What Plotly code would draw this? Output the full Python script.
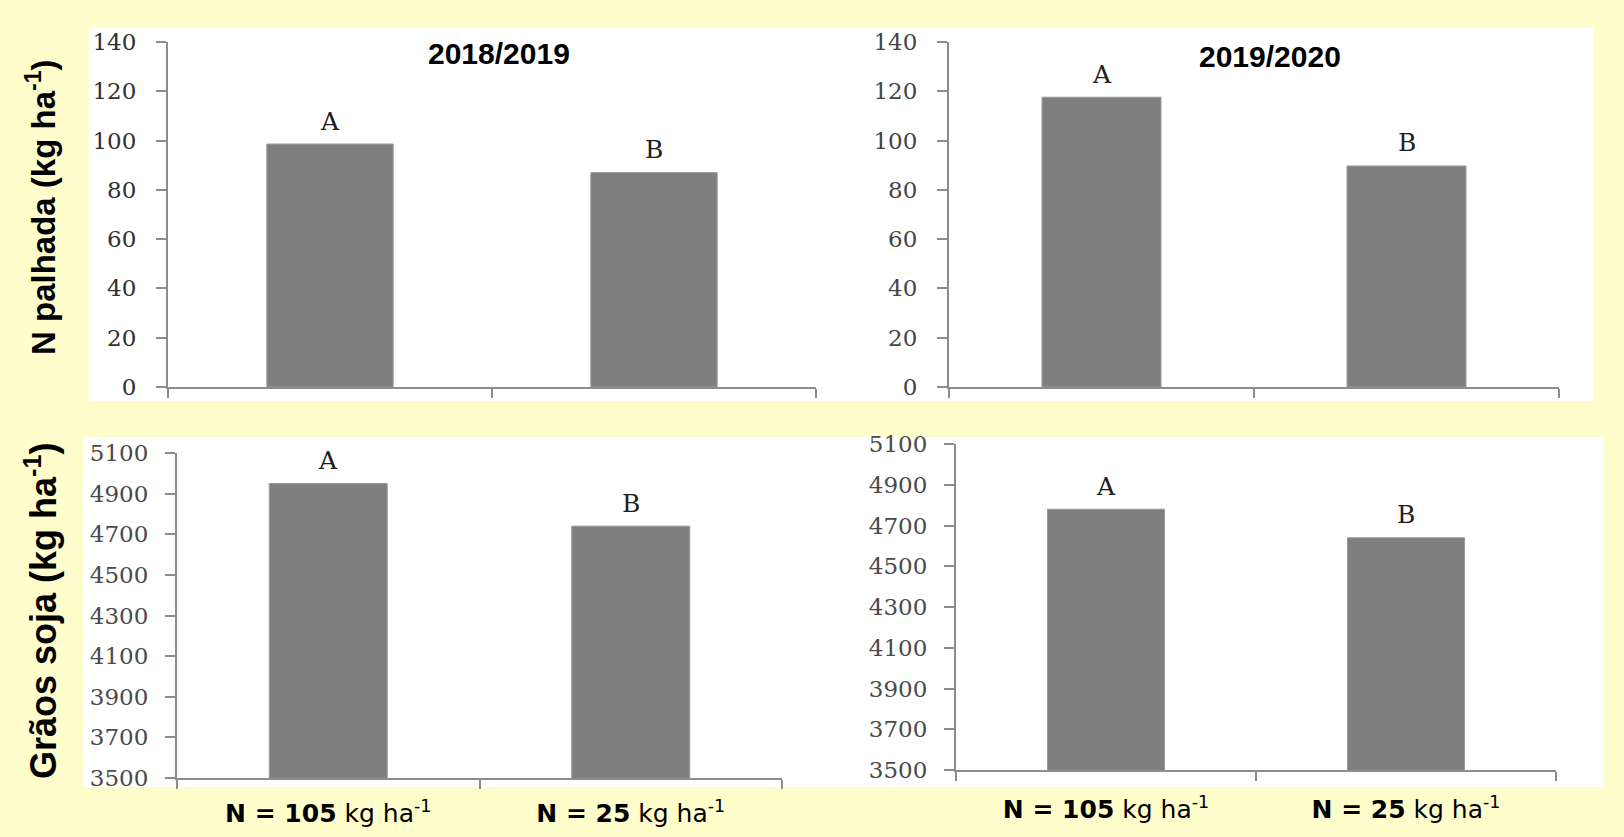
import plotly.graph_objects as go

# ---------------- data ----------------
categories = ["N105", "N25"]
category_labels = ["<b>N = 105</b> kg ha<sup>-1</sup>", "<b>N = 25</b> kg ha<sup>-1</sup>"]
n_palhada_2018_2019 = [98.6, 87.0]
n_palhada_2019_2020 = [117.6, 89.7]
graos_soja_2018_2019 = [4950, 4740]
graos_soja_2019_2020 = [4780, 4640]
letters = ["A", "B"]
season_titles = ["2018/2019", "2019/2020"]
top_ticks = [0, 20, 40, 60, 80, 100, 120, 140]
bottom_ticks = [3500, 3700, 3900, 4100, 4300, 4500, 4700, 4900, 5100]

# ---------------- layout helpers ----------------
W, H = 1624, 837
def px_x(a, b):
    return [a / W, b / W]
def px_y(top, bottom):
    return [1 - bottom / H, 1 - top / H]

YELLOW = "#FFFDCC"
BAR = "#7F7F7F"
AXIS = "#8C8C8C"
LETTERFONT = dict(family="DejaVu Serif", size=25, color="#1e1e1e")

fig = go.Figure()

panels = [
    ("x", "y", n_palhada_2018_2019),
    ("x2", "y2", n_palhada_2019_2020),
    ("x3", "y3", graos_soja_2018_2019),
    ("x4", "y4", graos_soja_2019_2020),
]
for xa, ya, vals in panels:
    fig.add_trace(go.Bar(x=categories, y=vals, xaxis=xa, yaxis=ya,
                         marker=dict(color=BAR, line=dict(color="#9a9a9a", width=1)),
                         width=0.39, showlegend=False, hoverinfo="x+y"))
    for c, v, t in zip(categories, vals, letters):
        fig.add_annotation(x=c, y=v, xref=xa, yref=ya, text=t, showarrow=False,
                           yanchor="middle", yshift=23, font=LETTERFONT)

xcommon = dict(type="category", range=[-0.5, 1.5], showline=True, linecolor=AXIS,
               linewidth=2, ticks="outside", tickson="boundaries", ticklen=9,
               tickwidth=2, tickcolor=AXIS, showgrid=False, zeroline=False,
               fixedrange=True, automargin=False)
def ycommon(color, standoff):
    return dict(showline=True, linecolor=AXIS, linewidth=2, ticks="outside",
                ticklen=10, tickwidth=2, tickcolor=AXIS, showgrid=False,
                zeroline=False, tickfont=dict(family="DejaVu Serif", size=23, color=color),
                ticklabelstandoff=standoff, fixedrange=True, automargin=False)
xlabfont = dict(family="DejaVu Sans", size=25, color="black")

fig.update_layout(
    width=W, height=H,
    margin=dict(l=0, r=0, t=0, b=0, pad=0, autoexpand=False),
    paper_bgcolor=YELLOW, plot_bgcolor="white",
    xaxis=dict(domain=px_x(168, 816), anchor="y", showticklabels=False, **xcommon),
    xaxis2=dict(domain=px_x(949, 1559), anchor="y2", showticklabels=False, **xcommon),
    xaxis3=dict(domain=px_x(177, 782), anchor="y3", tickvals=categories,
                ticktext=category_labels, tickfont=xlabfont, ticklabelstandoff=12, **xcommon),
    xaxis4=dict(domain=px_x(956, 1556), anchor="y4", tickvals=categories,
                ticktext=category_labels, tickfont=xlabfont, ticklabelstandoff=16, **xcommon),
    yaxis=dict(domain=px_y(42, 387), anchor="x", range=[0, 140], tickvals=top_ticks,
               **ycommon("#303030", 15)),
    yaxis2=dict(domain=px_y(42, 387), anchor="x2", range=[0, 140], tickvals=top_ticks,
                **ycommon("#454545", 15)),
    yaxis3=dict(domain=px_y(453, 778), anchor="x3", range=[3500, 5100], tickvals=bottom_ticks,
                **ycommon("#4a4a4a", 12)),
    yaxis4=dict(domain=px_y(444, 770), anchor="x4", range=[3500, 5100], tickvals=bottom_ticks,
                **ycommon("#4a4a4a", 12)),
    shapes=[
        dict(type="rect", xref="paper", yref="paper", layer="below",
             x0=89 / W, x1=1593 / W, y0=1 - 401 / H, y1=1 - 28 / H,
             fillcolor="white", line=dict(width=0)),
        dict(type="rect", xref="paper", yref="paper", layer="below",
             x0=83 / W, x1=1603 / W, y0=1 - 787 / H, y1=1 - 437 / H,
             fillcolor="white", line=dict(width=0)),
    ],
)

# season titles
for title, cx, cy in zip(season_titles, [499, 1270], [54, 57]):
    fig.add_annotation(x=cx / W, y=1 - cy / H, xref="paper", yref="paper", text=f"<b>{title}</b>",
                       showarrow=False, xanchor="center", yanchor="middle",
                       font=dict(family="Liberation Sans", size=30, color="black"))

# y-axis titles
for txt, cy, sz in [("<b>N palhada (kg ha<sup>-1</sup>)</b>", 207, 33),
                    ("<b>Grãos soja (kg ha<sup>-1</sup>)</b>", 611, 36)]:
    fig.add_annotation(x=41 / W, y=1 - cy / H, xref="paper", yref="paper", text=txt,
                       showarrow=False, textangle=-90, xanchor="center", yanchor="middle",
                       font=dict(family="Liberation Sans", size=sz, color="black"))

fig.write_html("out.html")
